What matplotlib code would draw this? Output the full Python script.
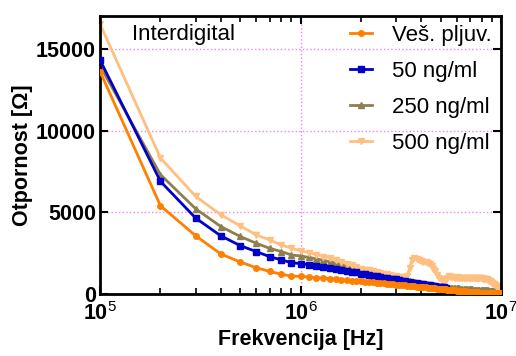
import numpy as np
import matplotlib
matplotlib.use("Agg")
import matplotlib.pyplot as plt
from matplotlib.ticker import FixedLocator, LogLocator, NullFormatter

plt.rcParams['font.family'] = ['Liberation Sans', 'DejaVu Sans']
plt.rcParams['mathtext.fontset'] = 'custom'
plt.rcParams['mathtext.rm'] = 'Liberation Sans'
plt.rcParams['mathtext.bf'] = 'Liberation Sans:bold'

# --- podaci (mjerna frekvencija korak 100 kHz, od 100 kHz do 10 MHz) ---
freq = np.arange(1, 101) * 1e5

ves_pljuv = [
    13600, 5400, 3560, 2450, 1960, 1610, 1390, 1210, 1100, 1080,
    1040, 1000, 970, 940, 910, 880, 850, 820, 800, 780,
    760, 740, 720, 700, 680, 660, 640, 620, 600, 580,
    565, 550, 535, 520, 505, 490, 475, 460, 445, 430,
    418, 406, 394, 382, 370, 358, 346, 334, 322, 310,
    300, 290, 280, 270, 260, 250, 240, 230, 222, 214,
    206, 198, 190, 182, 174, 166, 158, 150, 144, 138,
    132, 126, 120, 114, 108, 102, 98, 94, 90, 86,
    82, 78, 74, 70, 67, 64, 61, 58, 55, 52,
    50, 48, 46, 44, 42, 40, 38, 36, 34, 32,
]

ng50 = [
    14300, 6890, 4640, 3560, 2960, 2600, 2290, 2090, 1920, 1860,
    1790, 1720, 1660, 1600, 1540, 1480, 1420, 1370, 1320, 1250,
    1210, 1170, 1130, 1090, 1050, 1010, 980, 950, 920, 890,
    855, 825, 795, 765, 735, 705, 680, 655, 630, 605,
    585, 565, 545, 525, 505, 490, 475, 460, 445, 430,
    415, 402, 390,
]

ng250 = [
    13950, 7300, 5210, 4130, 3520, 3110, 2800, 2600, 2390, 2330,
    2240, 2150, 2060, 1970, 1890, 1810, 1730, 1660, 1590, 1520,
    1450, 1410, 1370, 1320, 1270, 1220, 1170, 1120, 1070, 1020,
    970, 920, 870, 830, 790, 750, 715, 685, 655, 625,
    600, 580, 560, 540, 520, 500, 485, 470, 455, 440,
    430, 420, 410, 400, 392, 384, 376, 368, 360, 352,
    346, 340, 334, 328, 322, 316, 310, 304, 298, 292,
    287, 282, 277, 272, 267, 262, 257, 252, 247, 242,
    238, 234, 230, 226, 222, 218, 214, 210, 206, 202,
    198, 194, 190, 186, 182, 170, 150, 130, 110, 90,
]

ng500 = [
    16500, 8320, 5970, 4850, 4170, 3620, 3310, 3010, 2800, 2650,
    2530, 2410, 2290, 2180, 2070, 1960, 1850, 1750, 1650, 1560,
    1500, 1450, 1400, 1350, 1300, 1250, 1200, 1160, 1120, 1080,
    1060, 1050, 1040, 1100, 1600, 2100, 2180, 2120, 2080, 2030,
    1990, 1950, 1880, 1820, 1700, 1560, 1380, 1180, 1000, 900,
    860, 850, 880, 960, 1080, 1060, 1040, 1020, 1010, 1000,
    1020, 1010, 1000, 990, 1000, 1010, 990, 980, 990, 1000,
    990, 980, 990, 1000, 990, 980, 970, 980, 970, 960,
    950, 940, 930, 910, 890, 860, 820, 780, 730, 680,
    640, 600, 560, 520, 480, 440, 400, 340, 270, 200,
]

series = [
    ("Veš. pljuv.", ves_pljuv, "#ff8000", "o", 5),
    ("50 ng/ml", ng50, "#0000c8", "s", 3),
    ("250 ng/ml", ng250, "#8c8050", "^", 1),
    ("500 ng/ml", ng500, "#ffbf80", "v", 2),
]

fig = plt.figure(figsize=(5.16, 3.56), dpi=100)
ax = fig.add_axes([0.194, 0.174, 0.777, 0.781])

for label, vals, color, marker, z in series:
    ax.plot(freq[:len(vals)], vals, color=color, marker=marker, markersize=4,
            linewidth=2, label=label, zorder=z)

ax.set_xscale('log')
ax.set_xlim(1e5, 1e7)
ax.set_ylim(0, 17000)

ax.xaxis.set_major_locator(FixedLocator([1e5, 1e6, 1e7]))
ax.set_xticklabels([r'$\mathbf{10}^{5}$', r'$\mathbf{10}^{6}$', r'$\mathbf{10}^{7}$'])
ax.xaxis.set_minor_locator(LogLocator(base=10, subs=np.arange(2, 10)))
ax.xaxis.set_minor_formatter(NullFormatter())
ax.set_yticks([0, 5000, 10000, 15000])

ax.tick_params(which='both', direction='in', top=True, right=True)
ax.tick_params(which='major', length=6, width=1.5, labelsize=15.5, pad=3)
ax.tick_params(axis='x', which='major', pad=6)
ax.tick_params(which='minor', length=4, width=1.2)
for t in ax.get_yticklabels():
    t.set_fontweight('bold')

for s in ax.spines.values():
    s.set_linewidth(2)

ax.grid(True, which='major', color='#ee82ee', linestyle=':', linewidth=1)
ax.set_axisbelow(True)

ax.set_xlabel('Frekvencija [Hz]', fontsize=15.5, fontweight='bold', labelpad=3)
ax.set_ylabel('Otpornost [Ω]', fontsize=15.5, fontweight='bold', labelpad=2)

ax.text(0.08, 0.935, 'Interdigital', transform=ax.transAxes, fontsize=16,
        va='center', ha='left')

ax.legend(loc='upper right', frameon=False, fontsize=16, handlelength=1.0,
          labelspacing=0.68, borderaxespad=0.1, borderpad=0.3,
          handletextpad=0.9)

fig.savefig('out.png', dpi=100)
